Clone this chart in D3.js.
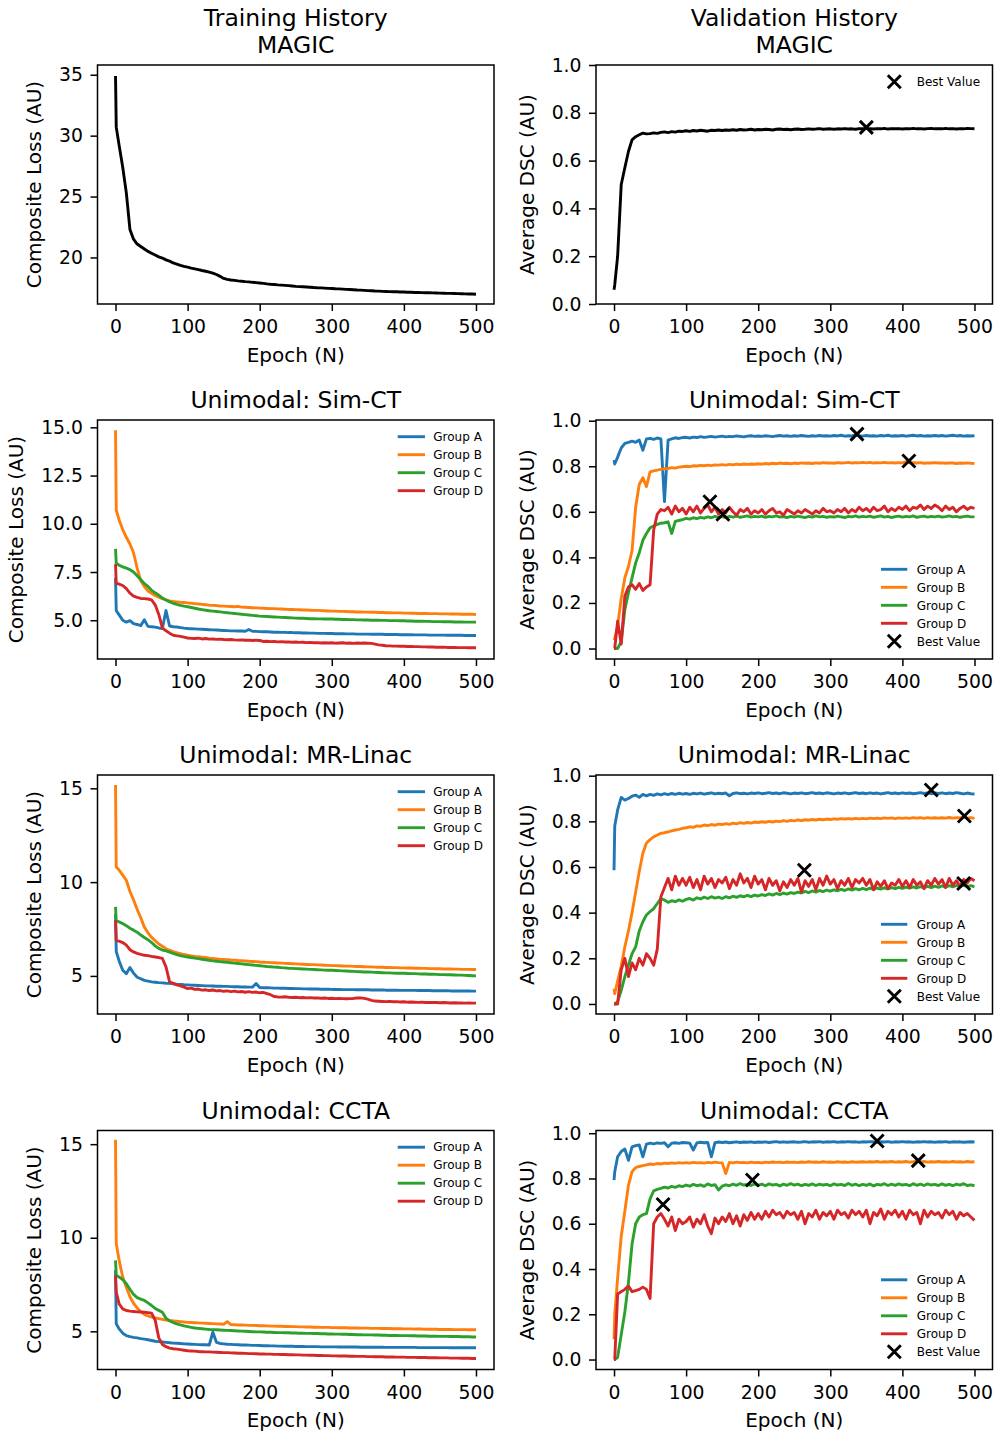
<!DOCTYPE html>
<html>
<head>
<meta charset="utf-8">
<script src="https://cdn.jsdelivr.net/npm/d3@7"></script>
<style>
  body { margin: 0; background: #fff; }
  svg { display: block; font-family: "DejaVu Sans", sans-serif; }
</style>
</head>
<body>
<svg id="plot" width="997" height="1433"></svg>
<script>
// sampled epochs: 0, 1, then every 5 up to 500
var epochs = [0, 1].concat(d3.range(5, 501, 5));
var epochTicks = [0, 100, 200, 300, 400, 500];

var groups = ["Group A", "Group B", "Group C", "Group D"];
var colors = ["#1f77b4", "#ff7f0e", "#2ca02c", "#d62728"];

var magicLossTicks = [20, 25, 30, 35];
var simLossTicks = [5, 7.5, 10, 12.5, 15];
var lossTicks = [5, 10, 15];
var dscTicks = [0, 0.2, 0.4, 0.6, 0.8, 1.0];

// ---- MAGIC ----
var magicTrain = [34.9, 30.7, 29.2, 27.4, 25.3, 22.3, 21.5, 21.1, 20.9, 20.7, 20.5,
  20.35, 20.2, 20.05, 19.95, 19.8, 19.7, 19.55, 19.45, 19.35, 19.27,
  19.2, 19.12, 19.06, 19.0, 18.93, 18.87, 18.8, 18.72, 18.6, 18.45,
  18.28, 18.2, 18.15, 18.12, 18.08, 18.05, 18.02, 18.0, 17.96, 17.93,
  17.9, 17.87, 17.83, 17.8, 17.78, 17.75, 17.73, 17.71, 17.69, 17.66,
  17.63, 17.61, 17.6, 17.58, 17.56, 17.53, 17.51, 17.5, 17.48, 17.46,
  17.45, 17.43, 17.42, 17.4, 17.38, 17.37, 17.35, 17.33, 17.32, 17.3,
  17.28, 17.27, 17.25, 17.24, 17.22, 17.21, 17.2, 17.19, 17.18, 17.17,
  17.16, 17.15, 17.14, 17.13, 17.12, 17.11, 17.1, 17.1, 17.09, 17.08,
  17.07, 17.06, 17.05, 17.05, 17.04, 17.03, 17.02, 17.01, 17.0, 17.0,
  16.98];
var magicVal = [0.06, 0.08, 0.2, 0.5, 0.57, 0.638, 0.687, 0.70, 0.708, 0.715, 0.712,
  0.713, 0.716, 0.714, 0.718, 0.72, 0.717, 0.721, 0.719, 0.723, 0.722,
  0.725, 0.722, 0.726, 0.724, 0.727, 0.725, 0.723, 0.727, 0.726, 0.728,
  0.726, 0.728, 0.727, 0.729, 0.727, 0.73, 0.728, 0.729, 0.731, 0.728,
  0.73, 0.729, 0.731, 0.73, 0.728, 0.731, 0.732, 0.73, 0.731, 0.729,
  0.731, 0.732, 0.73, 0.731, 0.733, 0.731, 0.732, 0.734, 0.731, 0.732,
  0.733, 0.731, 0.733, 0.732, 0.734, 0.732, 0.733, 0.731, 0.734, 0.733,
  0.736, 0.733, 0.732, 0.734, 0.733, 0.735, 0.732, 0.734, 0.733, 0.734,
  0.732, 0.734, 0.733, 0.735, 0.733, 0.734, 0.732, 0.734, 0.735, 0.733,
  0.734, 0.733, 0.735, 0.733, 0.734, 0.732, 0.734, 0.733, 0.735, 0.734,
  0.733];
var magicBestEpoch = [350];
var magicBestValue = [0.739];

// ---- Sim-CT ----
var simLossA = [7.2, 5.5, 5.28, 5.0, 4.9, 4.98, 4.82, 4.78, 4.72, 5.02, 4.68,
  4.66, 4.64, 4.6, 4.57, 5.5, 4.7, 4.66, 4.65, 4.62, 4.59,
  4.57, 4.56, 4.55, 4.54, 4.53, 4.52, 4.51, 4.5, 4.49, 4.48,
  4.47, 4.46, 4.45, 4.45, 4.44, 4.44, 4.43, 4.52, 4.43, 4.42,
  4.41, 4.4, 4.4, 4.39, 4.38, 4.38, 4.37, 4.37, 4.36, 4.36,
  4.35, 4.35, 4.34, 4.34, 4.33, 4.33, 4.32, 4.32, 4.32, 4.31,
  4.31, 4.3, 4.3, 4.3, 4.29, 4.29, 4.29, 4.28, 4.28, 4.28,
  4.28, 4.27, 4.27, 4.27, 4.27, 4.26, 4.26, 4.26, 4.26, 4.25,
  4.25, 4.25, 4.25, 4.24, 4.24, 4.24, 4.24, 4.23, 4.23, 4.23,
  4.23, 4.23, 4.22, 4.22, 4.22, 4.22, 4.22, 4.21, 4.21, 4.21,
  4.21];
var simLossB = [14.85, 10.7, 10.2, 9.7, 9.3, 8.95, 8.5, 7.7, 7.05, 6.75, 6.52,
  6.4, 6.28, 6.2, 6.12, 6.05, 6.0, 5.97, 5.95, 5.93, 5.92,
  5.9, 5.88, 5.86, 5.84, 5.82, 5.8, 5.78, 5.77, 5.76, 5.74,
  5.73, 5.72, 5.71, 5.7, 5.72, 5.68, 5.67, 5.66, 5.65, 5.64,
  5.63, 5.62, 5.61, 5.6, 5.6, 5.59, 5.58, 5.57, 5.56, 5.56,
  5.55, 5.54, 5.53, 5.53, 5.52, 5.51, 5.51, 5.5, 5.49, 5.48,
  5.47, 5.47, 5.46, 5.46, 5.45, 5.44, 5.44, 5.43, 5.43, 5.42,
  5.42, 5.41, 5.41, 5.4, 5.4, 5.39, 5.39, 5.38, 5.38, 5.38,
  5.37, 5.37, 5.36, 5.36, 5.35, 5.35, 5.35, 5.34, 5.34, 5.34,
  5.33, 5.33, 5.33, 5.32, 5.32, 5.32, 5.31, 5.31, 5.31, 5.31,
  5.3];
var simLossC = [8.7, 7.95, 7.85, 7.77, 7.7, 7.62, 7.5, 7.3, 7.1, 6.9, 6.75,
  6.55, 6.42, 6.3, 6.15, 6.05, 5.95, 5.88, 5.82, 5.77, 5.73,
  5.7, 5.66, 5.62, 5.58, 5.55, 5.52, 5.49, 5.47, 5.45, 5.43,
  5.41, 5.39, 5.37, 5.35, 5.33, 5.31, 5.29, 5.27, 5.25, 5.23,
  5.21, 5.2, 5.19, 5.18, 5.17, 5.16, 5.15, 5.14, 5.13, 5.12,
  5.11, 5.1, 5.1, 5.09, 5.08, 5.08, 5.07, 5.07, 5.06, 5.06,
  5.06, 5.05, 5.05, 5.04, 5.04, 5.03, 5.03, 5.02, 5.02, 5.01,
  5.01, 5.0, 5.0, 5.0, 4.99, 4.99, 4.98, 4.98, 4.98, 4.97,
  4.97, 4.96, 4.96, 4.95, 4.95, 4.95, 4.94, 4.94, 4.93, 4.93,
  4.93, 4.92, 4.92, 4.92, 4.91, 4.91, 4.91, 4.9, 4.9, 4.9,
  4.9];
var simLossD = [7.9, 6.92, 6.87, 6.8, 6.64, 6.4, 6.25, 6.18, 6.13, 6.12, 6.1,
  6.05, 5.8, 5.3, 4.6, 4.45, 4.33, 4.22, 4.19, 4.16, 4.12,
  4.08, 4.06, 4.05, 4.07, 4.03, 4.05, 4.02, 4.03, 4.01, 4.02,
  4.0, 3.99, 4.0, 3.98, 3.97, 3.98, 3.96, 3.97, 3.95, 3.96,
  3.95, 3.9, 3.91, 3.89, 3.9, 3.88, 3.89, 3.87, 3.88, 3.86,
  3.87, 3.85, 3.86, 3.84, 3.85, 3.83, 3.84, 3.82, 3.83, 3.82,
  3.83, 3.81, 3.82, 3.83, 3.81, 3.82, 3.8, 3.82, 3.81, 3.82,
  3.81, 3.8, 3.76, 3.72, 3.7, 3.68, 3.67, 3.66, 3.66, 3.65,
  3.65, 3.64, 3.64, 3.63, 3.63, 3.62, 3.62, 3.61, 3.61, 3.6,
  3.6, 3.6, 3.59, 3.59, 3.59, 3.58, 3.58, 3.58, 3.57, 3.57,
  3.57];
var simValA = [0.827, 0.81, 0.84, 0.88, 0.90, 0.905, 0.91, 0.905, 0.915, 0.87, 0.92,
  0.922, 0.918, 0.924, 0.92, 0.645, 0.915, 0.92, 0.925, 0.922, 0.926,
  0.927, 0.924, 0.928, 0.926, 0.93, 0.927, 0.929, 0.931, 0.928, 0.93,
  0.932, 0.929, 0.931, 0.93, 0.933, 0.931, 0.929, 0.932, 0.934, 0.931,
  0.933, 0.931, 0.934, 0.932, 0.93, 0.933, 0.935, 0.932, 0.934, 0.931,
  0.934, 0.932, 0.935, 0.933, 0.931, 0.934, 0.932, 0.935, 0.933, 0.934,
  0.932, 0.935, 0.933, 0.936, 0.932, 0.934, 0.933, 0.938, 0.934, 0.932,
  0.935, 0.933, 0.934, 0.932, 0.935, 0.933, 0.936, 0.932, 0.934, 0.933,
  0.935, 0.932, 0.934, 0.936, 0.933, 0.935, 0.932, 0.934, 0.933, 0.935,
  0.933, 0.935, 0.932, 0.934, 0.936, 0.933, 0.935, 0.932, 0.934, 0.933,
  0.934];
var simValB = [0.037, 0.045, 0.1, 0.22, 0.31, 0.36, 0.43, 0.62, 0.72, 0.75, 0.71,
  0.775, 0.78, 0.783, 0.786, 0.789, 0.79, 0.794, 0.792, 0.796, 0.798,
  0.80, 0.798, 0.802, 0.801, 0.804, 0.802, 0.805, 0.803, 0.806, 0.805,
  0.807, 0.805, 0.808, 0.806, 0.809, 0.807, 0.81, 0.808, 0.81, 0.809,
  0.811, 0.809, 0.812, 0.81, 0.813, 0.811, 0.814, 0.812, 0.813, 0.811,
  0.814, 0.812, 0.815, 0.813, 0.814, 0.812, 0.815, 0.813, 0.816, 0.814,
  0.815, 0.813, 0.816, 0.814, 0.815, 0.817, 0.814, 0.816, 0.815, 0.817,
  0.815, 0.817, 0.814, 0.816, 0.815, 0.817, 0.815, 0.816, 0.814, 0.816,
  0.815, 0.82, 0.815, 0.816, 0.814, 0.816, 0.813, 0.815, 0.814, 0.816,
  0.814, 0.815, 0.813, 0.815, 0.814, 0.812, 0.814, 0.813, 0.815, 0.813,
  0.812];
var simValC = [0.0, 0.0, 0.0, 0.03, 0.17, 0.245, 0.31, 0.375, 0.42, 0.475, 0.505,
  0.53, 0.538, 0.545, 0.55, 0.552, 0.556, 0.505, 0.558, 0.562, 0.566,
  0.571, 0.568, 0.574, 0.57, 0.576, 0.572, 0.578, 0.574, 0.58, 0.576,
  0.579, 0.575, 0.58, 0.577, 0.581, 0.576, 0.579, 0.582, 0.577, 0.58,
  0.578, 0.581, 0.576, 0.58, 0.578, 0.582, 0.577, 0.579, 0.575, 0.58,
  0.577, 0.581, 0.578, 0.575, 0.58, 0.577, 0.582, 0.578, 0.58, 0.576,
  0.579, 0.577, 0.581, 0.578, 0.575, 0.58, 0.578, 0.582, 0.577, 0.58,
  0.578, 0.581, 0.576, 0.579, 0.582, 0.577, 0.58, 0.575, 0.579, 0.581,
  0.577, 0.58, 0.578, 0.582, 0.576, 0.579, 0.581, 0.577, 0.58, 0.578,
  0.581, 0.577, 0.579, 0.582, 0.578, 0.58, 0.576, 0.579, 0.581, 0.578,
  0.578];
var simValD = [0.0, 0.0, 0.12, 0.02, 0.23, 0.27, 0.28, 0.26, 0.285, 0.255, 0.27,
  0.28, 0.52, 0.59, 0.61, 0.605, 0.62, 0.59, 0.625, 0.6, 0.615,
  0.59, 0.62, 0.6, 0.625, 0.595, 0.615, 0.63, 0.6, 0.62, 0.59,
  0.61, 0.595, 0.62, 0.6, 0.585, 0.61, 0.6, 0.615, 0.59, 0.605,
  0.595, 0.61, 0.59, 0.605, 0.615, 0.595, 0.6, 0.585, 0.61, 0.6,
  0.59, 0.605, 0.595, 0.61, 0.6, 0.59, 0.605, 0.595, 0.615, 0.6,
  0.605, 0.595, 0.61, 0.6, 0.615, 0.595, 0.61, 0.6, 0.62, 0.605,
  0.615, 0.6, 0.62, 0.605, 0.61, 0.625, 0.6, 0.615, 0.605, 0.62,
  0.61, 0.625, 0.605, 0.62, 0.615, 0.63, 0.61, 0.625, 0.615, 0.63,
  0.62, 0.605, 0.625, 0.61, 0.62, 0.6, 0.615, 0.625, 0.61, 0.62,
  0.615];
var simBestEpoch = [337, 409, 151, 133];
var simBestValue = [0.941, 0.823, 0.589, 0.644];

// ---- MR-Linac ----
var mrLossA = [8.3, 6.3, 5.8, 5.3, 5.12, 5.45, 5.15, 4.93, 4.85, 4.76, 4.72,
  4.68, 4.66, 4.64, 4.63, 4.61, 4.6, 4.58, 4.56, 4.55, 4.53,
  4.52, 4.51, 4.5, 4.49, 4.48, 4.47, 4.47, 4.46, 4.45, 4.45,
  4.44, 4.44, 4.43, 4.42, 4.42, 4.41, 4.41, 4.4, 4.4, 4.6,
  4.38, 4.37, 4.37, 4.36, 4.35, 4.35, 4.34, 4.34, 4.33, 4.33,
  4.32, 4.32, 4.31, 4.31, 4.3, 4.3, 4.3, 4.29, 4.29, 4.29,
  4.28, 4.28, 4.28, 4.27, 4.27, 4.27, 4.27, 4.26, 4.26, 4.26,
  4.26, 4.25, 4.25, 4.25, 4.25, 4.24, 4.24, 4.24, 4.24, 4.23,
  4.23, 4.23, 4.23, 4.23, 4.22, 4.22, 4.22, 4.22, 4.21, 4.21,
  4.21, 4.21, 4.21, 4.2, 4.2, 4.2, 4.2, 4.2, 4.2, 4.19,
  4.19];
var mrLossB = [15.18, 10.8, 10.64, 10.37, 10.1, 9.5, 9.05, 8.55, 8.1, 7.6, 7.3,
  7.05, 6.88, 6.7, 6.58, 6.45, 6.37, 6.3, 6.24, 6.19, 6.14,
  6.1, 6.07, 6.04, 6.02, 6.0, 5.98, 5.95, 5.93, 5.91, 5.89,
  5.88, 5.87, 5.85, 5.84, 5.82, 5.81, 5.8, 5.78, 5.77, 5.76,
  5.74, 5.73, 5.72, 5.71, 5.7, 5.69, 5.68, 5.67, 5.66, 5.65,
  5.64, 5.63, 5.62, 5.61, 5.6, 5.6, 5.59, 5.58, 5.57, 5.56,
  5.55, 5.55, 5.54, 5.53, 5.52, 5.52, 5.51, 5.5, 5.5, 5.49,
  5.48, 5.48, 5.47, 5.46, 5.46, 5.45, 5.45, 5.44, 5.44, 5.43,
  5.43, 5.42, 5.42, 5.41, 5.41, 5.4, 5.4, 5.39, 5.39, 5.38,
  5.38, 5.37, 5.37, 5.37, 5.36, 5.36, 5.35, 5.35, 5.35, 5.34,
  5.34];
var mrLossC = [8.68, 7.93, 7.88, 7.79, 7.68, 7.54, 7.44, 7.33, 7.18, 7.05, 6.93,
  6.78, 6.6, 6.47, 6.38, 6.33, 6.27, 6.2, 6.14, 6.08, 6.04,
  6.01, 5.98, 5.95, 5.92, 5.89, 5.86, 5.83, 5.8, 5.78, 5.76,
  5.74, 5.72, 5.7, 5.68, 5.66, 5.64, 5.62, 5.6, 5.58, 5.56,
  5.54, 5.52, 5.5, 5.49, 5.47, 5.46, 5.44, 5.43, 5.41, 5.4,
  5.39, 5.38, 5.37, 5.36, 5.35, 5.34, 5.33, 5.32, 5.31, 5.3,
  5.3, 5.29, 5.28, 5.27, 5.26, 5.25, 5.24, 5.23, 5.22, 5.21,
  5.21, 5.2, 5.19, 5.18, 5.17, 5.16, 5.16, 5.15, 5.14, 5.14,
  5.14, 5.13, 5.12, 5.12, 5.11, 5.1, 5.1, 5.09, 5.09, 5.08,
  5.07, 5.07, 5.06, 5.06, 5.05, 5.04, 5.04, 5.03, 5.02, 5.01,
  5.0];
var mrLossD = [7.97, 6.9, 6.85, 6.78, 6.64, 6.4, 6.28, 6.2, 6.15, 6.1, 6.08,
  6.04, 6.01, 5.98, 5.93, 5.48, 4.68, 4.6, 4.52, 4.47, 4.4,
  4.32, 4.35, 4.28, 4.3, 4.24, 4.26, 4.22, 4.25, 4.2, 4.22,
  4.18, 4.2, 4.16, 4.19, 4.15, 4.17, 4.13, 4.16, 4.12, 4.14,
  4.1, 4.12, 4.06, 4.0, 3.9, 3.88, 3.87, 3.89, 3.86, 3.85,
  3.86, 3.84, 3.85, 3.83, 3.84, 3.82, 3.83, 3.81, 3.82, 3.8,
  3.81, 3.79, 3.8, 3.79, 3.78, 3.79, 3.8, 3.82, 3.83, 3.8,
  3.76, 3.7, 3.66, 3.65, 3.64, 3.63, 3.64, 3.62, 3.63, 3.61,
  3.62, 3.6, 3.61, 3.6, 3.59, 3.6, 3.58, 3.59, 3.58, 3.58,
  3.57, 3.58, 3.57, 3.56, 3.57, 3.56, 3.56, 3.55, 3.56, 3.55,
  3.55];
var mrValA = [0.586, 0.78, 0.85, 0.905, 0.893, 0.90, 0.91, 0.915, 0.905, 0.918, 0.912,
  0.918, 0.914, 0.92, 0.916, 0.921, 0.917, 0.922, 0.918, 0.923, 0.919,
  0.922, 0.918, 0.923, 0.92, 0.924, 0.919, 0.922, 0.925, 0.92, 0.923,
  0.921, 0.924, 0.912, 0.922, 0.925, 0.921, 0.923, 0.92, 0.924, 0.922,
  0.925, 0.921, 0.923, 0.926, 0.922, 0.924, 0.921, 0.925, 0.923, 0.92,
  0.924, 0.922, 0.925, 0.921, 0.923, 0.926, 0.922, 0.924, 0.921, 0.925,
  0.923, 0.92, 0.924, 0.922, 0.925, 0.921, 0.923, 0.926, 0.922, 0.924,
  0.921, 0.925, 0.922, 0.924, 0.92, 0.923, 0.926, 0.922, 0.924, 0.921,
  0.925, 0.922, 0.924, 0.921, 0.923, 0.926, 0.922, 0.925, 0.921, 0.924,
  0.922, 0.925, 0.921, 0.924, 0.922, 0.926, 0.923, 0.92, 0.924, 0.921,
  0.92];
var mrValB = [0.067, 0.045, 0.1, 0.165, 0.25, 0.32, 0.40, 0.49, 0.58, 0.66, 0.705,
  0.72, 0.732, 0.74, 0.747, 0.75, 0.754, 0.758, 0.762, 0.765, 0.769,
  0.772, 0.776, 0.774, 0.78, 0.778, 0.784, 0.781, 0.786, 0.783, 0.788,
  0.786, 0.79, 0.787, 0.792, 0.789, 0.794, 0.791, 0.795, 0.792, 0.797,
  0.795, 0.798, 0.796, 0.8, 0.797, 0.801, 0.799, 0.803, 0.8, 0.804,
  0.802, 0.806, 0.803, 0.807, 0.805, 0.808, 0.806, 0.809, 0.807, 0.81,
  0.808, 0.811, 0.809, 0.812, 0.81, 0.812, 0.81, 0.813, 0.811, 0.813,
  0.811, 0.814, 0.812, 0.814, 0.812, 0.815, 0.813, 0.815, 0.812, 0.815,
  0.813, 0.815, 0.813, 0.816, 0.814, 0.816, 0.813, 0.816, 0.814, 0.816,
  0.814, 0.816, 0.814, 0.817, 0.814, 0.816, 0.815, 0.82, 0.814, 0.816,
  0.813];
var mrValC = [0.0, 0.0, 0.01, 0.06, 0.12, 0.17, 0.22, 0.25, 0.32, 0.36, 0.39,
  0.405, 0.418, 0.44, 0.462, 0.455, 0.445, 0.452, 0.448, 0.456, 0.45,
  0.458, 0.462, 0.455, 0.465, 0.46, 0.468, 0.462, 0.47, 0.464, 0.468,
  0.462, 0.47, 0.465, 0.472, 0.467, 0.474, 0.469, 0.476, 0.47, 0.477,
  0.473, 0.479, 0.475, 0.482, 0.477, 0.484, 0.479, 0.486, 0.481, 0.488,
  0.484, 0.49, 0.486, 0.493, 0.488, 0.495, 0.49, 0.497, 0.492, 0.499,
  0.494, 0.5, 0.496, 0.502, 0.497, 0.504, 0.499, 0.505, 0.5, 0.506,
  0.501, 0.507, 0.502, 0.508, 0.503, 0.509, 0.504, 0.51, 0.505, 0.511,
  0.506, 0.512, 0.507, 0.513, 0.508, 0.514, 0.509, 0.515, 0.51, 0.516,
  0.511, 0.517, 0.512, 0.518, 0.513, 0.519, 0.514, 0.52, 0.515, 0.518,
  0.513];
var mrValD = [0.0, 0.0, 0.0, 0.15, 0.2, 0.12, 0.18, 0.15, 0.2, 0.17, 0.22,
  0.2, 0.17, 0.24, 0.47, 0.51, 0.55, 0.5, 0.56, 0.52, 0.55,
  0.52, 0.555, 0.51, 0.545, 0.5, 0.56, 0.525, 0.55, 0.51, 0.545,
  0.53, 0.555, 0.505, 0.545, 0.52, 0.57, 0.53, 0.55, 0.51, 0.56,
  0.525, 0.545, 0.5, 0.55, 0.52, 0.54, 0.495, 0.535, 0.51, 0.545,
  0.52, 0.55, 0.49, 0.54, 0.515, 0.545, 0.5, 0.55, 0.52, 0.56,
  0.525, 0.545, 0.505, 0.54, 0.52, 0.55, 0.51, 0.545, 0.53, 0.55,
  0.52, 0.545, 0.5, 0.535, 0.515, 0.54, 0.505, 0.53, 0.52, 0.545,
  0.515, 0.54, 0.51, 0.545, 0.52, 0.535, 0.505, 0.54, 0.52, 0.55,
  0.525, 0.545, 0.51, 0.55, 0.52, 0.54, 0.515, 0.545, 0.53, 0.55,
  0.54];
var mrBestEpoch = [440, 486, 485, 264];
var mrBestValue = [0.937, 0.823, 0.528, 0.586];

// ---- CCTA ----
var ccLossA = [8.26, 5.4, 5.13, 4.9, 4.77, 4.72, 4.68, 4.65, 4.61, 4.58, 4.55,
  4.51, 4.47, 4.45, 4.43, 4.41, 4.39, 4.37, 4.36, 4.35, 4.33,
  4.32, 4.31, 4.3, 4.29, 4.28, 4.28, 4.27, 4.95, 4.41, 4.35,
  4.33, 4.31, 4.3, 4.29, 4.28, 4.27, 4.27, 4.26, 4.25, 4.25,
  4.24, 4.23, 4.23, 4.22, 4.22, 4.21, 4.21, 4.2, 4.2, 4.2,
  4.19, 4.19, 4.19, 4.18, 4.18, 4.18, 4.18, 4.17, 4.17, 4.17,
  4.17, 4.17, 4.16, 4.16, 4.16, 4.16, 4.16, 4.16, 4.15, 4.15,
  4.15, 4.15, 4.15, 4.15, 4.15, 4.14, 4.14, 4.14, 4.14, 4.14,
  4.14, 4.14, 4.14, 4.14, 4.13, 4.13, 4.13, 4.13, 4.13, 4.13,
  4.13, 4.13, 4.13, 4.12, 4.12, 4.12, 4.12, 4.12, 4.12, 4.12,
  4.12];
var ccLossB = [15.23, 9.7, 8.79, 7.9, 7.36, 6.85, 6.5, 6.25, 6.05, 5.9, 5.82,
  5.76, 5.72, 5.68, 5.64, 5.6, 5.58, 5.56, 5.54, 5.52, 5.5,
  5.48, 5.47, 5.46, 5.45, 5.44, 5.43, 5.42, 5.41, 5.4, 5.39,
  5.38, 5.52, 5.36, 5.35, 5.34, 5.34, 5.33, 5.32, 5.32, 5.31,
  5.3, 5.3, 5.29, 5.28, 5.28, 5.27, 5.27, 5.26, 5.26, 5.25,
  5.25, 5.24, 5.24, 5.23, 5.23, 5.22, 5.22, 5.21, 5.21, 5.21,
  5.2, 5.2, 5.19, 5.19, 5.19, 5.18, 5.18, 5.18, 5.17, 5.17,
  5.17, 5.16, 5.16, 5.16, 5.15, 5.15, 5.15, 5.14, 5.14, 5.14,
  5.13, 5.13, 5.13, 5.12, 5.12, 5.12, 5.11, 5.11, 5.11, 5.11,
  5.1, 5.1, 5.1, 5.1, 5.09, 5.09, 5.09, 5.09, 5.08, 5.08,
  5.08];
var ccLossC = [8.79, 7.99, 7.9, 7.76, 7.54, 7.25, 6.97, 6.8, 6.72, 6.65, 6.52,
  6.38, 6.22, 6.12, 6.02, 5.7, 5.56, 5.47, 5.4, 5.34, 5.29,
  5.25, 5.21, 5.18, 5.16, 5.14, 5.12, 5.1, 5.09, 5.08, 5.07,
  5.06, 5.05, 5.04, 5.03, 5.02, 5.01, 5.0, 4.99, 4.98, 4.97,
  4.97, 4.96, 4.95, 4.95, 4.94, 4.93, 4.93, 4.92, 4.92, 4.91,
  4.91, 4.9, 4.9, 4.89, 4.89, 4.88, 4.88, 4.87, 4.87, 4.86,
  4.86, 4.85, 4.85, 4.84, 4.84, 4.83, 4.83, 4.82, 4.82, 4.81,
  4.81, 4.81, 4.8, 4.8, 4.79, 4.79, 4.78, 4.78, 4.78, 4.77,
  4.77, 4.77, 4.76, 4.76, 4.75, 4.75, 4.75, 4.74, 4.74, 4.74,
  4.73, 4.73, 4.73, 4.72, 4.72, 4.72, 4.71, 4.71, 4.71, 4.7,
  4.7];
var ccLossD = [7.99, 7.1, 6.47, 6.2, 6.11, 6.08, 6.06, 6.04, 6.03, 6.02, 6.0,
  5.97, 5.6, 4.65, 4.3, 4.18, 4.1, 4.07, 4.05, 4.02, 3.99,
  3.96, 3.95, 3.94, 3.92, 3.91, 3.9, 3.9, 3.89, 3.88, 3.87,
  3.86, 3.86, 3.85, 3.84, 3.83, 3.83, 3.82, 3.81, 3.81, 3.8,
  3.79, 3.79, 3.78, 3.78, 3.77, 3.77, 3.76, 3.76, 3.75, 3.75,
  3.74, 3.74, 3.73, 3.73, 3.72, 3.72, 3.71, 3.71, 3.7, 3.7,
  3.69, 3.69, 3.68, 3.68, 3.68, 3.67, 3.67, 3.66, 3.66, 3.66,
  3.65, 3.65, 3.64, 3.64, 3.64, 3.63, 3.63, 3.63, 3.62, 3.62,
  3.62, 3.61, 3.61, 3.61, 3.6, 3.6, 3.6, 3.59, 3.59, 3.59,
  3.58, 3.58, 3.58, 3.57, 3.57, 3.57, 3.56, 3.56, 3.56, 3.55,
  3.55];
var ccValA = [0.793, 0.83, 0.896, 0.919, 0.93, 0.88, 0.94, 0.945, 0.948, 0.896, 0.952,
  0.956, 0.953, 0.957, 0.955, 0.958, 0.94, 0.956, 0.958, 0.955, 0.959,
  0.958, 0.956, 0.926, 0.957, 0.96, 0.958, 0.959, 0.896, 0.958, 0.961,
  0.959, 0.961, 0.958, 0.96, 0.962, 0.959, 0.961, 0.96, 0.962, 0.959,
  0.961, 0.96, 0.962, 0.959, 0.961, 0.963, 0.96, 0.962, 0.96, 0.961,
  0.962, 0.96, 0.961, 0.963, 0.96, 0.962, 0.961, 0.963, 0.96, 0.962,
  0.961, 0.963, 0.96, 0.962, 0.961, 0.963, 0.961, 0.962, 0.96, 0.962,
  0.961, 0.963, 0.962, 0.96, 0.962, 0.961, 0.963, 0.96, 0.962, 0.961,
  0.963, 0.961, 0.962, 0.96, 0.962, 0.961, 0.963, 0.961, 0.962, 0.96,
  0.962, 0.961, 0.963, 0.96, 0.962, 0.961, 0.962, 0.96, 0.961, 0.962,
  0.961];
var ccValB = [0.09, 0.2, 0.36, 0.545, 0.655, 0.77, 0.83, 0.848, 0.853, 0.857, 0.86,
  0.864, 0.862, 0.866, 0.864, 0.868, 0.866, 0.869, 0.867, 0.87, 0.868,
  0.87, 0.868, 0.871, 0.869, 0.87, 0.868, 0.871, 0.869, 0.872, 0.87,
  0.869, 0.822, 0.871, 0.869, 0.872, 0.87, 0.871, 0.869, 0.872, 0.87,
  0.871, 0.869, 0.872, 0.87, 0.873, 0.871, 0.872, 0.87, 0.873, 0.871,
  0.872, 0.87, 0.873, 0.871, 0.874, 0.872, 0.873, 0.871, 0.874, 0.872,
  0.873, 0.871, 0.874, 0.872, 0.873, 0.871, 0.874, 0.872, 0.873, 0.874,
  0.872, 0.874, 0.873, 0.875, 0.872, 0.874, 0.873, 0.875, 0.872, 0.874,
  0.873, 0.875, 0.872, 0.874, 0.877, 0.873, 0.875, 0.872, 0.874, 0.873,
  0.875, 0.873, 0.874, 0.872, 0.875, 0.873, 0.874, 0.872, 0.875, 0.873,
  0.874];
var ccValC = [0.0, 0.0, 0.01, 0.11, 0.21, 0.34, 0.51, 0.6, 0.63, 0.64, 0.645,
  0.71, 0.745, 0.752, 0.756, 0.762, 0.758, 0.765, 0.761, 0.768, 0.764,
  0.771, 0.766, 0.774, 0.768, 0.772, 0.765, 0.776, 0.769, 0.773, 0.749,
  0.766, 0.772, 0.768, 0.775, 0.77, 0.777, 0.771, 0.774, 0.769, 0.776,
  0.77, 0.775, 0.768, 0.776, 0.771, 0.774, 0.767, 0.775, 0.77, 0.777,
  0.771, 0.775, 0.768, 0.774, 0.77, 0.776, 0.769, 0.775, 0.771, 0.774,
  0.768, 0.776, 0.771, 0.774, 0.769, 0.778, 0.77, 0.775, 0.768, 0.774,
  0.77, 0.776, 0.767, 0.774, 0.771, 0.777, 0.769, 0.775, 0.77, 0.776,
  0.771, 0.774, 0.768, 0.777, 0.77, 0.775, 0.769, 0.776, 0.771, 0.774,
  0.769, 0.776, 0.77, 0.774, 0.768, 0.775, 0.771, 0.777, 0.769, 0.772,
  0.768];
var ccValD = [0.0, 0.0, 0.29, 0.3, 0.31, 0.325, 0.3, 0.305, 0.31, 0.32, 0.31,
  0.27, 0.6, 0.63, 0.645, 0.62, 0.59, 0.63, 0.57, 0.62, 0.6,
  0.61, 0.63, 0.585, 0.62, 0.6, 0.64, 0.59, 0.556, 0.625, 0.6,
  0.63, 0.61, 0.645, 0.6, 0.635, 0.59, 0.64, 0.615, 0.65, 0.62,
  0.645, 0.62, 0.655, 0.63, 0.66, 0.64, 0.65, 0.625, 0.655, 0.64,
  0.65, 0.62, 0.655, 0.6, 0.645, 0.63, 0.66, 0.62, 0.65, 0.635,
  0.655, 0.62, 0.66, 0.64, 0.65, 0.625, 0.66, 0.64, 0.655, 0.63,
  0.66, 0.6, 0.65, 0.635, 0.665, 0.62, 0.655, 0.64, 0.66, 0.63,
  0.655, 0.62, 0.66, 0.64, 0.65, 0.6, 0.66, 0.63, 0.655, 0.64,
  0.65, 0.625, 0.66, 0.64, 0.655, 0.62, 0.65, 0.635, 0.645, 0.63,
  0.615];
var ccBestEpoch = [365, 422, 192, 68];
var ccBestValue = [0.966, 0.879, 0.793, 0.685];

// layout
var W = 396.5, H = 239;
var colX = [97.5, 596];
var rowY = [65, 420, 775, 1130.5];
var tickFont = 18.8, labelFont = 20, titleFont = 23.5, legendFont = 12;
var lineWidth = 2.9;

var svg = d3.select("#plot");
svg.append("rect").attr("width", 997).attr("height", 1433).attr("fill", "#fff");

var xMark = d3.symbol().type(d3.symbolX).size(112);

function toSeries(list) {
  return list.map(function(values, i) {
    return { values: values, color: colors[i], name: groups[i] };
  });
}

function toBest(eps, vals) {
  return eps.map(function(e, i) { return { epoch: e, value: vals[i] }; });
}

function drawPanel(p, id) {
  var g = svg.append("g").attr("transform", "translate(" + p.x + "," + p.y + ")");

  var xScale = d3.scaleLinear().domain([-25, 525]).range([0, W]);
  var yScale = d3.scaleLinear().domain(p.yDomain).range([H, 0]);

  g.append("clipPath").attr("id", "clip" + id)
    .append("rect").attr("width", W).attr("height", H);

  var line = d3.line()
    .x(function(d, i) { return xScale(epochs[i]); })
    .y(function(d) { return yScale(d); });

  g.append("g").attr("clip-path", "url(#clip" + id + ")")
    .selectAll("path")
    .data(p.series)
    .enter()
    .append("path")
    .attr("d", function(d) { return line(d.values); })
    .attr("fill", "none")
    .attr("stroke", function(d) { return d.color; })
    .attr("stroke-width", lineWidth)
    .attr("stroke-linejoin", "round");

  // best value markers
  if (p.best) {
    g.selectAll("path.best")
      .data(p.best)
      .enter()
      .append("path")
      .attr("class", "best")
      .attr("d", xMark)
      .attr("transform", function(d) {
        return "translate(" + xScale(d.epoch) + "," + yScale(d.value) + ")";
      })
      .attr("fill", "none")
      .attr("stroke", "#000")
      .attr("stroke-width", 2.9);
  }

  // axes
  var xAxis = d3.axisBottom(xScale).tickValues(epochTicks).tickSize(7).tickPadding(9)
    .tickFormat(d3.format("d"));
  var yAxis = d3.axisLeft(yScale).tickValues(p.yTicks).tickSize(7).tickPadding(7.5)
    .tickFormat(d3.format(p.yFormat));

  var gx = g.append("g").attr("transform", "translate(0," + H + ")").call(xAxis);
  var gy = g.append("g").call(yAxis);
  [gx, gy].forEach(function(a) {
    a.select(".domain").remove();
    a.selectAll("line").attr("stroke", "#000").attr("stroke-width", 1.5);
    a.selectAll("text").attr("font-size", tickFont).attr("fill", "#000")
      .attr("font-family", "DejaVu Sans, sans-serif");
  });

  // frame
  g.append("rect").attr("width", W).attr("height", H)
    .attr("fill", "none").attr("stroke", "#000").attr("stroke-width", 1.5);

  // axis labels
  g.append("text")
    .attr("x", W / 2).attr("y", H + 57.5)
    .attr("text-anchor", "middle").attr("font-size", labelFont)
    .text("Epoch (N)");

  var tickLeft = d3.min(gy.selectAll("text").nodes(), function(n) {
    return n.getBBox().x;
  });
  g.append("text")
    .attr("transform", "translate(" + (tickLeft - 17.8) + "," + (H / 2) + ") rotate(-90)")
    .attr("text-anchor", "middle").attr("font-size", labelFont)
    .text(p.yLabel);

  // title (one or two lines)
  p.title.forEach(function(t, i) {
    g.append("text")
      .attr("x", W / 2).attr("y", -11.7 - (p.title.length - 1 - i) * 27.5)
      .attr("text-anchor", "middle").attr("font-size", titleFont)
      .text(t);
  });

  // legend
  if (p.legend === "none") return;
  var leg = g.append("g").attr("font-size", legendFont);
  if (p.legend === "loss") {
    p.series.forEach(function(s, i) {
      var ly = 16.7 + i * 18;
      leg.append("line").attr("x1", 300.2).attr("x2", 327.5).attr("y1", ly).attr("y2", ly)
        .attr("stroke", s.color).attr("stroke-width", lineWidth);
      leg.append("text").attr("x", 335.8).attr("y", ly).attr("dy", "0.35em").text(s.name);
    });
    return;
  }
  var rows = p.legend === "val" ? p.series.length : 0;
  var y0 = p.legend === "val" ? 149.3 : 16.7;
  p.series.slice(0, rows).forEach(function(s, i) {
    var ly = y0 + i * 18;
    leg.append("line").attr("x1", 285).attr("x2", 311.3).attr("y1", ly).attr("y2", ly)
      .attr("stroke", s.color).attr("stroke-width", lineWidth);
    leg.append("text").attr("x", 320.7).attr("y", ly).attr("dy", "0.35em").text(s.name);
  });
  var by = y0 + rows * 18;
  leg.append("path").attr("d", xMark)
    .attr("transform", "translate(298.3," + by + ")")
    .attr("fill", "none").attr("stroke", "#000").attr("stroke-width", 2.9);
  leg.append("text").attr("x", 320.7).attr("y", by).attr("dy", "0.35em").text("Best Value");
}

var panels = [
  { x: colX[0], y: rowY[0], title: ["Training History", "MAGIC"], yLabel: "Composite Loss (AU)",
    yDomain: [16.18, 35.8], yTicks: magicLossTicks, yFormat: "d",
    series: [{ values: magicTrain, color: "#000", name: "MAGIC" }], legend: "none" },
  { x: colX[1], y: rowY[0], title: ["Validation History", "MAGIC"], yLabel: "Average DSC (AU)",
    yDomain: [0, 1], yTicks: dscTicks, yFormat: ".1f",
    series: [{ values: magicVal, color: "#000", name: "MAGIC" }],
    best: toBest(magicBestEpoch, magicBestValue), legend: "magic" },
  { x: colX[0], y: rowY[1], title: ["Unimodal: Sim-CT"], yLabel: "Composite Loss (AU)",
    yDomain: [2.99, 15.38], yTicks: simLossTicks, yFormat: ".1f",
    series: toSeries([simLossA, simLossB, simLossC, simLossD]), legend: "loss" },
  { x: colX[1], y: rowY[1], title: ["Unimodal: Sim-CT"], yLabel: "Average DSC (AU)",
    yDomain: [-0.046, 1.003], yTicks: dscTicks, yFormat: ".1f",
    series: toSeries([simValA, simValB, simValC, simValD]),
    best: toBest(simBestEpoch, simBestValue), legend: "val" },
  { x: colX[0], y: rowY[2], title: ["Unimodal: MR-Linac"], yLabel: "Composite Loss (AU)",
    yDomain: [2.97, 15.71], yTicks: lossTicks, yFormat: "d",
    series: toSeries([mrLossA, mrLossB, mrLossC, mrLossD]), legend: "loss" },
  { x: colX[1], y: rowY[2], title: ["Unimodal: MR-Linac"], yLabel: "Average DSC (AU)",
    yDomain: [-0.044, 1.003], yTicks: dscTicks, yFormat: ".1f",
    series: toSeries([mrValA, mrValB, mrValC, mrValD]),
    best: toBest(mrBestEpoch, mrBestValue), legend: "val" },
  { x: colX[0], y: rowY[3], title: ["Unimodal: CCTA"], yLabel: "Composite Loss (AU)",
    yDomain: [2.96, 15.73], yTicks: lossTicks, yFormat: "d",
    series: toSeries([ccLossA, ccLossB, ccLossC, ccLossD]), legend: "loss" },
  { x: colX[1], y: rowY[3], title: ["Unimodal: CCTA"], yLabel: "Average DSC (AU)",
    yDomain: [-0.044, 1.012], yTicks: dscTicks, yFormat: ".1f",
    series: toSeries([ccValA, ccValB, ccValC, ccValD]),
    best: toBest(ccBestEpoch, ccBestValue), legend: "val" }
];

panels.forEach(function(p, i) {
  p.series.forEach(function(s) {
    if (s.values.length !== epochs.length) console.log("length mismatch", i, s.name, s.values.length);
  });
  drawPanel(p, i);
});
</script>
</body>
</html>
